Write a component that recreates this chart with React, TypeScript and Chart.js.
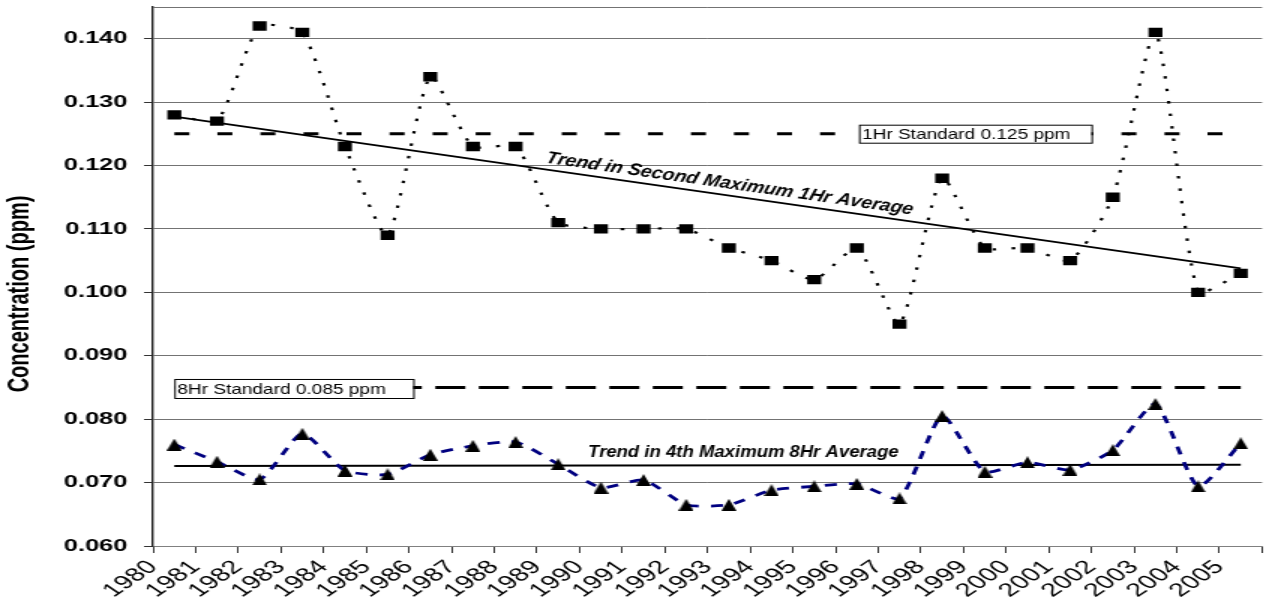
import React, { useEffect, useRef } from 'react';
import { Chart, registerables } from 'chart.js';

Chart.register(...registerables);

// ---------- data ----------
const years = ['1980', '1981', '1982', '1983', '1984', '1985', '1986', '1987', '1988', '1989', '1990', '1991', '1992', '1993', '1994', '1995', '1996', '1997', '1998', '1999', '2000', '2001', '2002', '2003', '2004', '2005'];
const secondMax1Hr = [0.128, 0.127, 0.142, 0.141, 0.123, 0.109, 0.134, 0.123, 0.123, 0.111, 0.110, 0.110, 0.110, 0.107, 0.105, 0.102, 0.107, 0.095, 0.118, 0.107, 0.107, 0.105, 0.115, 0.141, 0.100, 0.103];
const fourthMax8Hr = [0.0760, 0.0733, 0.0705, 0.0777, 0.0719, 0.0713, 0.0744, 0.0758, 0.0764, 0.0729, 0.0692, 0.0704, 0.0665, 0.0665, 0.0688, 0.0694, 0.0698, 0.0675, 0.0805, 0.0717, 0.0732, 0.0720, 0.0751, 0.0824, 0.0694, 0.0762];
const trend1HrEnds = [0.1277, 0.1038];
const trend8HrEnds = [0.0726, 0.0728];
const standard1Hr = 0.125;
const standard8Hr = 0.085;
const yTickValues = [0.06, 0.07, 0.08, 0.09, 0.1, 0.11, 0.12, 0.13, 0.14];
const yMin = 0.06;
const yMax = 0.145;

const label1HrStd = '1Hr Standard 0.125 ppm';
const label8HrStd = '8Hr Standard 0.085 ppm';
const labelTrend1Hr = 'Trend in Second Maximum 1Hr Average';
const labelTrend8Hr = 'Trend in 4th Maximum 8Hr Average';
const yTitle = 'Concentration (ppm)';

// ---------- layout ----------
const DISPLAY_W = 1272;
const DISPLAY_H = 608;
const STRETCH = 1.5; // the reference is horizontally stretched
const CANVAS_W = Math.round(DISPLAY_W / STRETCH);

const SANS = '"Liberation Sans", Arial, sans-serif';

const firstX = 0.5;
const lastX = years.length - 0.5;

function makeTriangle(): HTMLCanvasElement {
  const c = document.createElement('canvas');
  c.width = 10;
  c.height = 12;
  const g = c.getContext('2d')!;
  g.fillStyle = '#000';
  g.beginPath();
  g.moveTo(5, 0);
  g.lineTo(10, 12);
  g.lineTo(0, 12);
  g.closePath();
  g.fill();
  return c;
}

// draw text condensed horizontally so that it spans `width` pixels
function drawCondensed(ctx: CanvasRenderingContext2D, text: string, width: number) {
  const w = ctx.measureText(text).width;
  ctx.save();
  ctx.scale(width / w, 1);
  ctx.fillText(text, 0, 0);
  ctx.restore();
}

const annotationPlugin = {
  id: 'ozoneAnnotations',
  afterDatasetsDraw(chart: any) {
    const { ctx } = chart;
    const xs = chart.scales.x;
    const ys = chart.scales.y;
    ctx.save();

    // text boxes on standard lines
    const boxes = [
      { text: label1HrStd, x0: 16.55, x1: 22.0, yTop: 0.12644, yBot: 0.1236 },
      { text: label8HrStd, x0: 0.5, x1: 6.1, yTop: 0.08634, yBot: 0.08334 },
    ];
    boxes.forEach((b) => {
      const l = xs.getPixelForValue(b.x0);
      const r = xs.getPixelForValue(b.x1);
      const t = ys.getPixelForValue(b.yTop);
      const bt = ys.getPixelForValue(b.yBot);
      ctx.fillStyle = '#fff';
      ctx.fillRect(l, t, r - l, bt - t);
      ctx.strokeStyle = '#000';
      ctx.lineWidth = 1;
      ctx.strokeRect(l + 0.5, t + 0.5, r - l, bt - t);
      ctx.fillStyle = '#000';
      ctx.font = `15px ${SANS}`;
      ctx.textAlign = 'left';
      ctx.textBaseline = 'middle';
      ctx.save();
      ctx.translate(l + 2, (t + bt) / 2 + 1);
      drawCondensed(ctx, b.text, 139);
      ctx.restore();
    });

    // trend labels
    ctx.fillStyle = '#000';
    ctx.font = `italic bold 17px ${SANS}`;
    ctx.textAlign = 'center';
    ctx.textBaseline = 'middle';
    ctx.save();
    ctx.translate(xs.getPixelForValue(13.52), ys.getPixelForValue(0.1171));
    ctx.rotate((12 * Math.PI) / 180);
    drawCondensed(ctx, labelTrend1Hr, 250);
    ctx.restore();

    ctx.textBaseline = 'alphabetic';
    ctx.save();
    ctx.translate(xs.getPixelForValue(13.84), ys.getPixelForValue(0.07404));
    drawCondensed(ctx, labelTrend8Hr, 207);
    ctx.restore();

    ctx.restore();
  },
  afterDraw(chart: any) {
    const { ctx } = chart;
    ctx.save();
    ctx.fillStyle = '#000';
    ctx.font = `bold 20px ${SANS}`;
    ctx.textAlign = 'center';
    ctx.textBaseline = 'middle';
    ctx.translate(13.5, 294);
    ctx.rotate(-Math.PI / 2);
    ctx.fillText(yTitle, 0, 0);
    ctx.restore();
  },
};

export default function App() {
  const ref = useRef<HTMLCanvasElement | null>(null);

  useEffect(() => {
    const canvas = ref.current;
    if (!canvas) return;
    const tri = makeTriangle();
    const at = (arr: number[]) => arr.map((v, i) => ({ x: i + 0.5, y: v }));

    const chart = new Chart(canvas, {
      type: 'line',
      data: {
        datasets: [
          {
            label: 'Second Maximum 1Hr Average',
            data: at(secondMax1Hr),
            borderColor: '#000',
            borderWidth: 2.2,
            borderDash: [2.5, 10],
            tension: 0.2,
            pointStyle: 'rect',
            pointRadius: 6.6,
            pointBackgroundColor: '#000',
            pointBorderWidth: 0,
            order: 1,
          },
          {
            label: '4th Maximum 8Hr Average',
            data: at(fourthMax8Hr),
            borderColor: '#000080',
            borderWidth: 2.8,
            borderDash: [8, 8],
            tension: 0.2,
            pointStyle: tri,
            pointRadius: 5,
            pointBackgroundColor: '#000',
            pointBorderWidth: 0,
            order: 2,
          },
          {
            label: 'Trend 1Hr',
            data: [{ x: firstX, y: trend1HrEnds[0] }, { x: lastX, y: trend1HrEnds[1] }],
            borderColor: '#000',
            borderWidth: 1.8,
            pointRadius: 0,
            order: 3,
          },
          {
            label: 'Trend 8Hr',
            data: [{ x: firstX, y: trend8HrEnds[0] }, { x: lastX, y: trend8HrEnds[1] }],
            borderColor: '#000',
            borderWidth: 2,
            pointRadius: 0,
            order: 4,
          },
          {
            label: '1Hr Standard',
            data: [{ x: firstX, y: standard1Hr }, { x: lastX, y: standard1Hr }],
            borderColor: '#000',
            borderWidth: 3,
            borderDash: [10, 18.7],
            pointRadius: 0,
            order: 5,
          },
          {
            label: '8Hr Standard',
            data: [{ x: firstX, y: standard8Hr }, { x: lastX, y: standard8Hr }],
            borderColor: '#000',
            borderWidth: 3,
            borderDash: [20, 9],
            pointRadius: 0,
            order: 6,
          },
        ],
      },
      options: {
        animation: false,
        responsive: false,
        maintainAspectRatio: false,
        devicePixelRatio: 1,
        layout: { padding: { top: 7, left: 0, right: 0, bottom: 0 } },
        plugins: {
          legend: { display: false },
          tooltip: { enabled: false },
        },
        scales: {
          x: {
            type: 'linear',
            min: 0,
            max: years.length,
            afterBuildTicks: (axis: any) => {
              axis.ticks = years.map((_, i) => ({ value: i })).concat([{ value: years.length }]);
            },
            afterFit: (scale: any) => {
              scale.height = 62;
              scale.paddingLeft = 0;
              scale.paddingRight = 0;
              scale.paddingTop = 0;
              scale.paddingBottom = 0;
            },
            grid: {
              drawOnChartArea: false,
              drawTicks: true,
              tickLength: 7,
              color: '#333',
              lineWidth: 1,
            },
            border: { display: true, color: '#808080', width: 1 },
            ticks: {
              autoSkip: false,
              minRotation: 45,
              maxRotation: 45,
              padding: 3,
              color: '#000',
              font: { family: SANS, size: 19 },
              callback: (v: any) => (years[v] !== undefined ? years[v] : ''),
            },
          },
          y: {
            type: 'linear',
            min: yMin,
            max: yMax,
            afterBuildTicks: (axis: any) => {
              axis.ticks = yTickValues.map((v) => ({ value: v })).concat([{ value: yMax }]);
            },
            afterFit: (scale: any) => {
              scale.width = 102;
              scale.paddingTop = 0;
              scale.paddingBottom = 0;
              scale.paddingLeft = 0;
              scale.paddingRight = 0;
            },
            grid: {
              color: '#737373',
              lineWidth: 1,
              tickLength: 6,
              tickColor: (c: any) => (c.tick && c.tick.value > 0.1405 ? 'rgba(0,0,0,0)' : '#333'),
            },
            border: { display: true, color: '#222', width: 1.4 },
            title: { display: false },
            ticks: {
              padding: 11,
              color: '#000',
              font: { family: SANS, size: 17, weight: 'bold' },
              callback: (v: any) => (v > 0.1405 ? '' : Number(v).toFixed(3)),
            },
          },
        },
      },
      plugins: [annotationPlugin],
    } as any);

    return () => chart.destroy();
  }, []);

  return (
    <div style={{ position: 'fixed', left: 0, top: 0, width: DISPLAY_W, height: DISPLAY_H, background: '#fff' }}>
      <canvas
        ref={ref}
        width={CANVAS_W}
        height={DISPLAY_H}
        style={{ width: `${DISPLAY_W}px`, height: `${DISPLAY_H}px`, display: 'block' }}
      />
    </div>
  );
}
